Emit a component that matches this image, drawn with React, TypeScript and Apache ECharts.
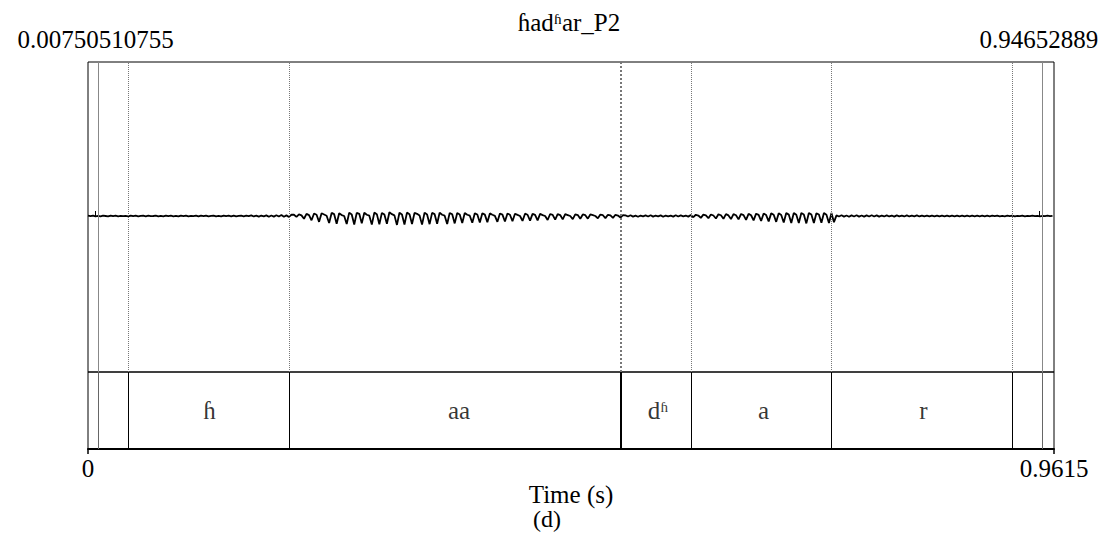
import React, { useEffect, useRef } from "react";
import * as echarts from "echarts";

// ---- axis / time data ----
const TIME_MAX = 0.9615;
const SAMPLE_STEP = 0.0025;
const topTickValues = [0.00750510755, 0.94652889];
const topTickLabels = ["0.00750510755", "0.94652889"];
const bottomTickValues = [0, 0.9615];
const bottomTickLabels = ["0", "0.9615"];

// ---- TextGrid tier ----
const intervalStarts = [0, 0.0378, 0.204, 0.5345, 0.6002, 0.7445, 0.9187];
const intervalEnds = [0.0378, 0.204, 0.5345, 0.6002, 0.7445, 0.9187, 0.9615];
const intervalLabels = ["", "ɦ", "aa", "dʱ", "a", "r", ""];
const boundaries = [0.0378, 0.204, 0.5345, 0.6002, 0.7445, 0.9187];

// ---- waveform samples (amplitude, thousandths of full scale) ----
const waveSilence = [2, -1, 3, -2, 1, -3, 2, 0, -2, 3, -1, 2, -2, 1, -1];
const waveH = [
  1, -2, 3, -1, 2, -3, 1, 2, -2, 3, -1, 0, 2, -3, 1, -2, 3, -1, 2, -2,
  1, -3, 2, -1, 3, -2, 1, -1, 2, -3, 2, -1, 3, -2, 1, 2, -3, 1, -2, 3,
  -1, 2, -2, 3, -3, 1, 2, -2, 3, -1, 4, -3, 2, -4, 3, -2, 4, -5, 3, -4,
  5, -3, 6, -5, 4, -6, 8,
];
const waveAA = [
  8, -6, 10, 4, -18, 14, 6, -28, 16, 8,
  -38, 18, 10, 2, -45, 20, 12, -50, 18, 6,
  0, -52, 22, 10, -55, 20, 14, -48, 21, 8,
  2, -56, 22, 12, -54, 20, 9, -50, 24, 12,
  4, -58, 21, 10, -55, 22, 12, -52, 20, 14,
  3, -56, 22, 10, -53, 20, 12, -50, 22, 8,
  2, -52, 20, 11, -48, 19, 10, -46, 20, 8,
  2, -44, 18, 10, -42, 18, 9, -40, 17, 8,
  1, -38, 16, 9, -36, 16, 8, -34, 15, 7,
  0, -32, 15, 8, -30, 14, 7, -28, 14, 6,
  0, -26, 13, 7, -24, 12, 6, -22, 12, 6,
  0, -20, 11, 6, -18, 10, 5, -17, 10, 5,
  0, -15, 9, 5, -14, 8, 4, -12, 8, 3,
  -10, 6,
];
const waveDh = [4, -3, 5, -4, 2, -5, 3, -2, 4, -3, 5, -4, 3, -2, 4, -5, 3, -3, 2, -4, 5, -3, 4, -2, 3, -4];
const waveA = [
  6, -8, 8, 3, -12, 9, 4, -14, 10, 3,
  -16, 11, 5, -18, 12, 4, -20, 12, 5, -22,
  13, 6, -25, 14, 5, -28, 15, 7, -32, 16,
  6, -35, 17, 8, -38, 18, 7, -42, 19, 9,
  -45, 20, 8, -46, 19, 10, -48, 20, 9, -46,
  18, 10, -44, 19, 8, -45, 20, -40,
];
const waveR = [
  4, -3, 5, -4, 3, -5, 4, -3, 5, -4,
  3, -4, 4, -3, 5, -3, 4, -4, 3, -3,
  4, -3, 3, -4, 4, -2, 3, -3, 4, -3,
  3, -2, 4, -3, 3, -3, 2, -3, 3, -2,
  3, -3, 2, -2, 3, -3, 2, -2, 3, -2,
  2, -3, 2, -2, 3, -2, 2, -2, 2, -3,
  2, -2, 2, -1, 2, -2, 1, -2, 2, -1,
  2, -2, 1, -1, 2, -2, 1, -1, 2, -1,
  1, -2, 1, -1, 2, -1, 1,
];

const FONT = "Liberation Serif";

export default function App() {
  const ref = useRef<HTMLDivElement>(null);

  useEffect(() => {
    document.body.style.margin = "0";
    if (!ref.current) return;
    const chart = echarts.init(ref.current, undefined, { renderer: "svg" });

    const samples = [...waveSilence, ...waveH, ...waveAA, ...waveDh, ...waveA, ...waveR];
    const waveData = samples.map((v, i) => [i * SAMPLE_STEP, v]);

    const tierData = intervalLabels.map((lab, i) => ({
      value: [(intervalStarts[i] + intervalEnds[i]) / 2, 0.5],
      name: lab,
    }));

    const viewLines = topTickValues.map((t) => ({
      xAxis: t,
      lineStyle: { type: "solid", color: "#888", width: 1 },
    }));

    const labelFor = (vals: number[], labs: string[]) => (v: number) => {
      let best = 0;
      vals.forEach((x, i) => {
        if (Math.abs(x - v) < Math.abs(vals[best] - v)) best = i;
      });
      return labs[best];
    };

    const textStyle = { fontFamily: FONT, fontSize: 25, color: "#000" };

    chart.setOption({
      animation: false,
      backgroundColor: "#fff",
      textStyle: { fontFamily: FONT },
      grid: [
        { left: 88, top: 62, width: 966, height: 310, show: true, borderColor: "#000", borderWidth: 1, backgroundColor: "transparent" },
        { left: 88, top: 372, width: 966, height: 77, show: true, borderColor: "#000", borderWidth: 1, backgroundColor: "transparent" },
      ],
      xAxis: [
        {
          gridIndex: 0,
          type: "value",
          position: "top",
          min: 0,
          max: TIME_MAX,
          axisLine: { show: false },
          splitLine: { show: false },
          axisTick: { show: true, customValues: topTickValues, length: 5, lineStyle: { color: "#000", width: 1 } },
          axisLabel: { show: true, customValues: topTickValues, formatter: labelFor(topTickValues, topTickLabels), margin: 10, ...textStyle },
        },
        {
          gridIndex: 1,
          type: "value",
          min: 0,
          max: TIME_MAX,
          axisLine: { show: true, lineStyle: { color: "#000", width: 2 } },
          splitLine: { show: false },
          axisTick: { show: true, customValues: bottomTickValues, length: 5, lineStyle: { color: "#000", width: 1.5 } },
          axisLabel: { show: true, customValues: bottomTickValues, formatter: labelFor(bottomTickValues, bottomTickLabels), margin: 7, ...textStyle },
          name: "Time (s)",
          nameLocation: "middle",
          nameGap: 28,
          nameTextStyle: { ...textStyle },
        },
      ],
      yAxis: [
        { gridIndex: 0, type: "value", min: -1013, max: 1000, show: false, splitLine: { show: false } },
        { gridIndex: 1, type: "value", min: 0, max: 1, show: false, splitLine: { show: false } },
      ],
      series: [
        {
          type: "line",
          xAxisIndex: 0,
          yAxisIndex: 0,
          data: waveData,
          showSymbol: false,
          symbol: "none",
          lineStyle: { color: "#000", width: 1.8 },
          silent: true,
          markLine: {
            silent: true,
            symbol: "none",
            label: { show: false },
            data: [
              ...boundaries.map((b) => ({
                xAxis: b,
                lineStyle: { type: "dotted", color: "#777", width: b === 0.5345 ? 2 : 1 },
              })),
              ...viewLines,
            ],
          },
          z: 3,
        },
        {
          type: "scatter",
          xAxisIndex: 1,
          yAxisIndex: 1,
          data: tierData,
          symbolSize: 1,
          itemStyle: { color: "rgba(0,0,0,0)" },
          silent: true,
          label: {
            show: true,
            position: "inside",
            formatter: (p: any) => p.name,
            ...textStyle,
          },
          markLine: {
            silent: true,
            symbol: "none",
            label: { show: false },
            data: [
              ...boundaries.map((b) => ({
                xAxis: b,
                lineStyle: { type: "solid", color: "#000", width: b === 0.5345 ? 2 : 1 },
              })),
              ...viewLines.map((l) => ({ ...l, lineStyle: { ...l.lineStyle, color: "#666" } })),
            ],
          },
        },
      ],
      graphic: [
        {
          type: "text",
          x: 569,
          y: 22,
          style: { text: "ɦadʱar_P2", textAlign: "center", textVerticalAlign: "middle", fontFamily: FONT, fontSize: 25, fill: "#000" },
        },
        {
          type: "text",
          x: 547,
          y: 519,
          style: { text: "(d)", textAlign: "center", textVerticalAlign: "middle", fontFamily: FONT, fontSize: 24, fill: "#000" },
        },
      ],
    });

    return () => chart.dispose();
  }, []);

  return <div ref={ref} style={{ width: 1106, height: 537 }} />;
}
